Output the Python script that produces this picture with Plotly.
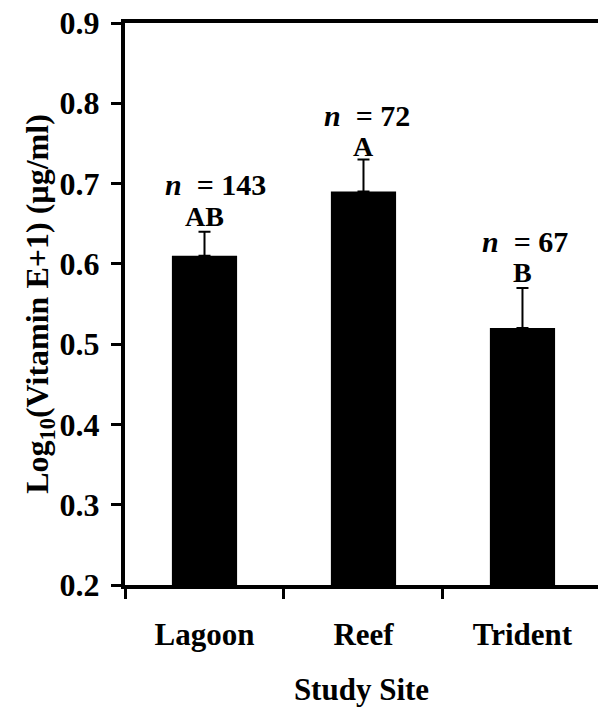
import plotly.graph_objects as go

sites = ["Lagoon", "Reef", "Trident"]
means = [0.61, 0.69, 0.52]
se_upper = [0.03, 0.04, 0.05]
n_labels = ["143", "72", "67"]
group_letters = ["AB", "A", "B"]
y_ticks = [0.2, 0.3, 0.4, 0.5, 0.6, 0.7, 0.8, 0.9]

FONT = "'Liberation Serif', 'Times New Roman', Times, 'DejaVu Serif', serif"

fig = go.Figure()
fig.add_trace(go.Bar(
    x=sites, y=[m - 0.2 for m in means], base=0.2,
    width=0.41,
    marker=dict(color="black", line=dict(width=0)),
    error_y=dict(type="data", symmetric=False, array=se_upper,
                 arrayminus=[0]*len(means), color="black", thickness=2, width=6),
    showlegend=False,
))

annotations = []
n_xshift = [11, 4, 3]
n_yshift = [47, 44, 46]
l_yshift = [15, 13, 15]
for i, s in enumerate(sites):
    top = means[i] + se_upper[i]
    annotations.append(dict(
        x=s, y=top, xref="x", yref="y", yshift=n_yshift[i], xshift=n_xshift[i],
        text="<b><i>n</i>\u00a0 = " + n_labels[i] + "</b>", showarrow=False,
        font=dict(family=FONT, size=30, color="black"),
        xanchor="center", yanchor="middle"))
    annotations.append(dict(
        x=s, y=top, xref="x", yref="y", yshift=l_yshift[i],
        text="<b>" + group_letters[i] + "</b>", showarrow=False,
        font=dict(family=FONT, size=28, color="black"),
        xanchor="center", yanchor="middle"))

fig.update_layout(
    width=598, height=711,
    margin=dict(l=125, r=0, t=23, b=126),
    plot_bgcolor="white", paper_bgcolor="white",
    font=dict(family=FONT, color="black"),
    annotations=annotations,
    xaxis=dict(
        type="category", range=[-0.5, 2.475],
        showline=True, linecolor="black", linewidth=4, mirror=True,
        ticks="outside", tickson="boundaries", ticklen=10, tickwidth=3, tickcolor="black",
        tickfont=dict(family=FONT, size=31, color="black"),
        ticklabelstandoff=19,
        tickvals=sites, ticktext=["<b>%s</b>" % s for s in sites],
        title=dict(text="<b>Study Site</b>", font=dict(family=FONT, size=31, color="black"), standoff=28),
        showgrid=False, zeroline=False,
    ),
    yaxis=dict(
        range=[0.2, 0.9], tickvals=y_ticks, ticktext=["<b>%.1f</b>" % v for v in y_ticks],
        showline=True, linecolor="black", linewidth=4,
        ticks="outside", ticklen=10, tickwidth=3, tickcolor="black",
        tickfont=dict(family=FONT, size=32, color="black"),
        ticklabelstandoff=5,
        title=dict(text="<b>Log<sub>10</sub>(Vitamin E+1) (µg/ml)</b>",
                   font=dict(family=FONT, size=32, color="black"), standoff=2),
        showgrid=False, zeroline=False,
    ),
)

fig.write_html("out.html")
